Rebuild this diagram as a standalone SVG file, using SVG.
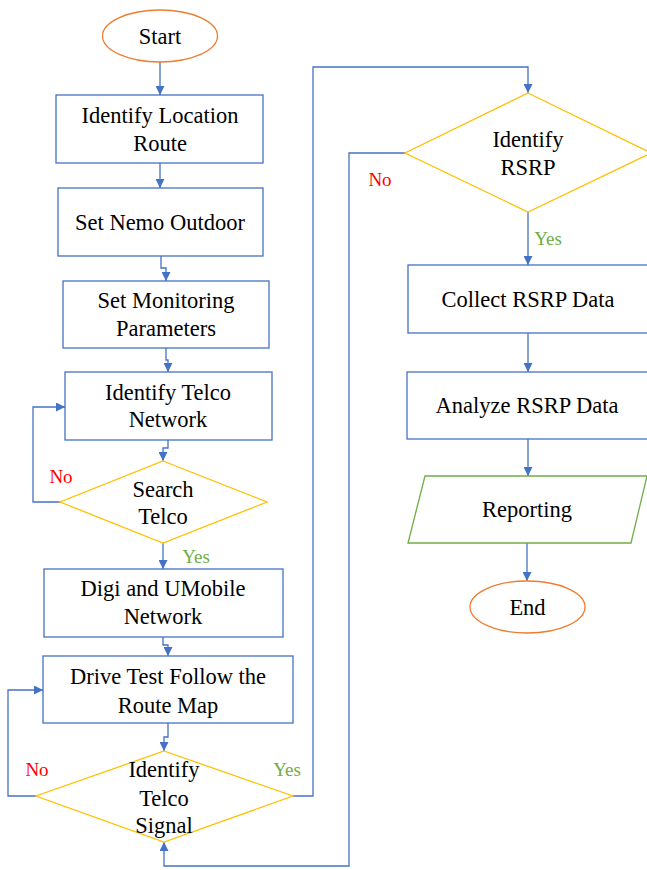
<svg xmlns="http://www.w3.org/2000/svg" width="647" height="870" viewBox="0 0 647 870" font-family="Liberation Serif, DejaVu Serif, serif">
<style>
.t{font-size:22.5px;fill:#000;text-anchor:middle}
.lbl{font-size:19px;text-anchor:middle}
.no{fill:#FF0000}
.yes{fill:#70AD47}
.box{fill:#fff;stroke:#4472C4;stroke-width:1.3}
.dec{fill:#fff;stroke:#FFC000;stroke-width:1.3}
.term{fill:#fff;stroke:#ED7D31;stroke-width:1.3}
.io{fill:#fff;stroke:#70AD47;stroke-width:1.3}
.c{fill:none;stroke:#4472C4;stroke-width:1.3}
</style>
<defs>
<marker id="ah" viewBox="0 0 10 10" refX="10" refY="5" markerWidth="9" markerHeight="9" markerUnits="userSpaceOnUse" orient="auto">
<path d="M0,0 L10,5 L0,10 z" fill="#4472C4"/>
</marker>
</defs>
<rect width="647" height="870" fill="#fff"/>
<g id="connectors">
<path class="c" d="M160,62 V95" marker-end="url(#ah)"/>
<path class="c" d="M160,163 V188" marker-end="url(#ah)"/>
<path class="c" d="M161,256 V268 H166 V281" marker-end="url(#ah)"/>
<path class="c" d="M166,348 V360 H168 V372" marker-end="url(#ah)"/>
<path class="c" d="M168,440 V448 H163 V461" marker-end="url(#ah)"/>
<path class="c" d="M60,502 H33 V407 H65" marker-end="url(#ah)"/>
<path class="c" d="M163,543 V569" marker-end="url(#ah)"/>
<path class="c" d="M163,637 V645 H168 V656" marker-end="url(#ah)"/>
<path class="c" d="M168,723 V737 H164 V751" marker-end="url(#ah)"/>
<path class="c" d="M36,796 H8 V690 H43" marker-end="url(#ah)"/>
<path class="c" d="M293,796 H313 V67 H528 V93" marker-end="url(#ah)"/>
<path class="c" d="M405,153 H349 V866 H164 V842" marker-end="url(#ah)"/>
<path class="c" d="M528,212 V265" marker-end="url(#ah)"/>
<path class="c" d="M528,333 V372" marker-end="url(#ah)"/>
<path class="c" d="M528,439 V476" marker-end="url(#ah)"/>
<path class="c" d="M527,543 V581" marker-end="url(#ah)"/>
</g>
<g id="labels">
<text class="lbl no" x="61" y="483">No</text>
<text class="lbl yes" x="196" y="563">Yes</text>
<text class="lbl no" x="37" y="776">No</text>
<text class="lbl yes" x="287" y="776">Yes</text>
<text class="lbl no" x="380" y="186">No</text>
<text class="lbl yes" x="548" y="245">Yes</text>
</g>
<g id="start">
<ellipse class="term" cx="160" cy="36" rx="57.5" ry="26"/>
<text class="t" x="160" y="44">Start</text>
</g>
<g id="identify-location">
<rect class="box" x="56" y="95" width="207" height="68"/>
<text class="t" x="160" y="123">Identify Location</text>
<text class="t" x="160" y="151">Route</text>
</g>
<g id="set-nemo">
<rect class="box" x="58" y="188" width="205" height="68"/>
<text class="t" x="160" y="230">Set Nemo Outdoor</text>
</g>
<g id="set-monitoring">
<rect class="box" x="63" y="281" width="206" height="67"/>
<text class="t" x="166" y="308">Set Monitoring</text>
<text class="t" x="166" y="336">Parameters</text>
</g>
<g id="identify-telco-network">
<rect class="box" x="65" y="372" width="207" height="68"/>
<text class="t" x="168" y="400">Identify Telco</text>
<text class="t" x="168" y="427">Network</text>
</g>
<g id="search-telco">
<polygon class="dec" points="163,461 267,502 163,543 60,502"/>
<text class="t" x="163" y="497">Search</text>
<text class="t" x="163" y="524">Telco</text>
</g>
<g id="digi-umobile">
<rect class="box" x="44" y="569" width="239" height="68"/>
<text class="t" x="163" y="596">Digi and UMobile</text>
<text class="t" x="163" y="624">Network</text>
</g>
<g id="drive-test">
<rect class="box" x="43" y="656" width="250" height="67"/>
<text class="t" x="168" y="684">Drive Test Follow the</text>
<text class="t" x="168" y="713">Route Map</text>
</g>
<g id="identify-telco-signal">
<polygon class="dec" points="164,751 293,796 164,842 36,796"/>
<text class="t" x="164" y="777">Identify</text>
<text class="t" x="164" y="806">Telco</text>
<text class="t" x="164" y="833">Signal</text>
</g>
<g id="identify-rsrp">
<polygon class="dec" points="528,93 651,153 528,212 405,153"/>
<text class="t" x="528" y="147">Identify</text>
<text class="t" x="528" y="175">RSRP</text>
</g>
<g id="collect-rsrp">
<rect class="box" x="408" y="265" width="240" height="68"/>
<text class="t" x="528" y="307">Collect RSRP Data</text>
</g>
<g id="analyze-rsrp">
<rect class="box" x="407" y="372" width="241" height="67"/>
<text class="t" x="527" y="413">Analyze RSRP Data</text>
</g>
<g id="reporting">
<polygon class="io" points="425,476 647,476 631,543 408,543"/>
<text class="t" x="527" y="517">Reporting</text>
</g>
<g id="end">
<ellipse class="term" cx="527.5" cy="607" rx="57.5" ry="26"/>
<text class="t" x="527.5" y="615">End</text>
</g>
</svg>
